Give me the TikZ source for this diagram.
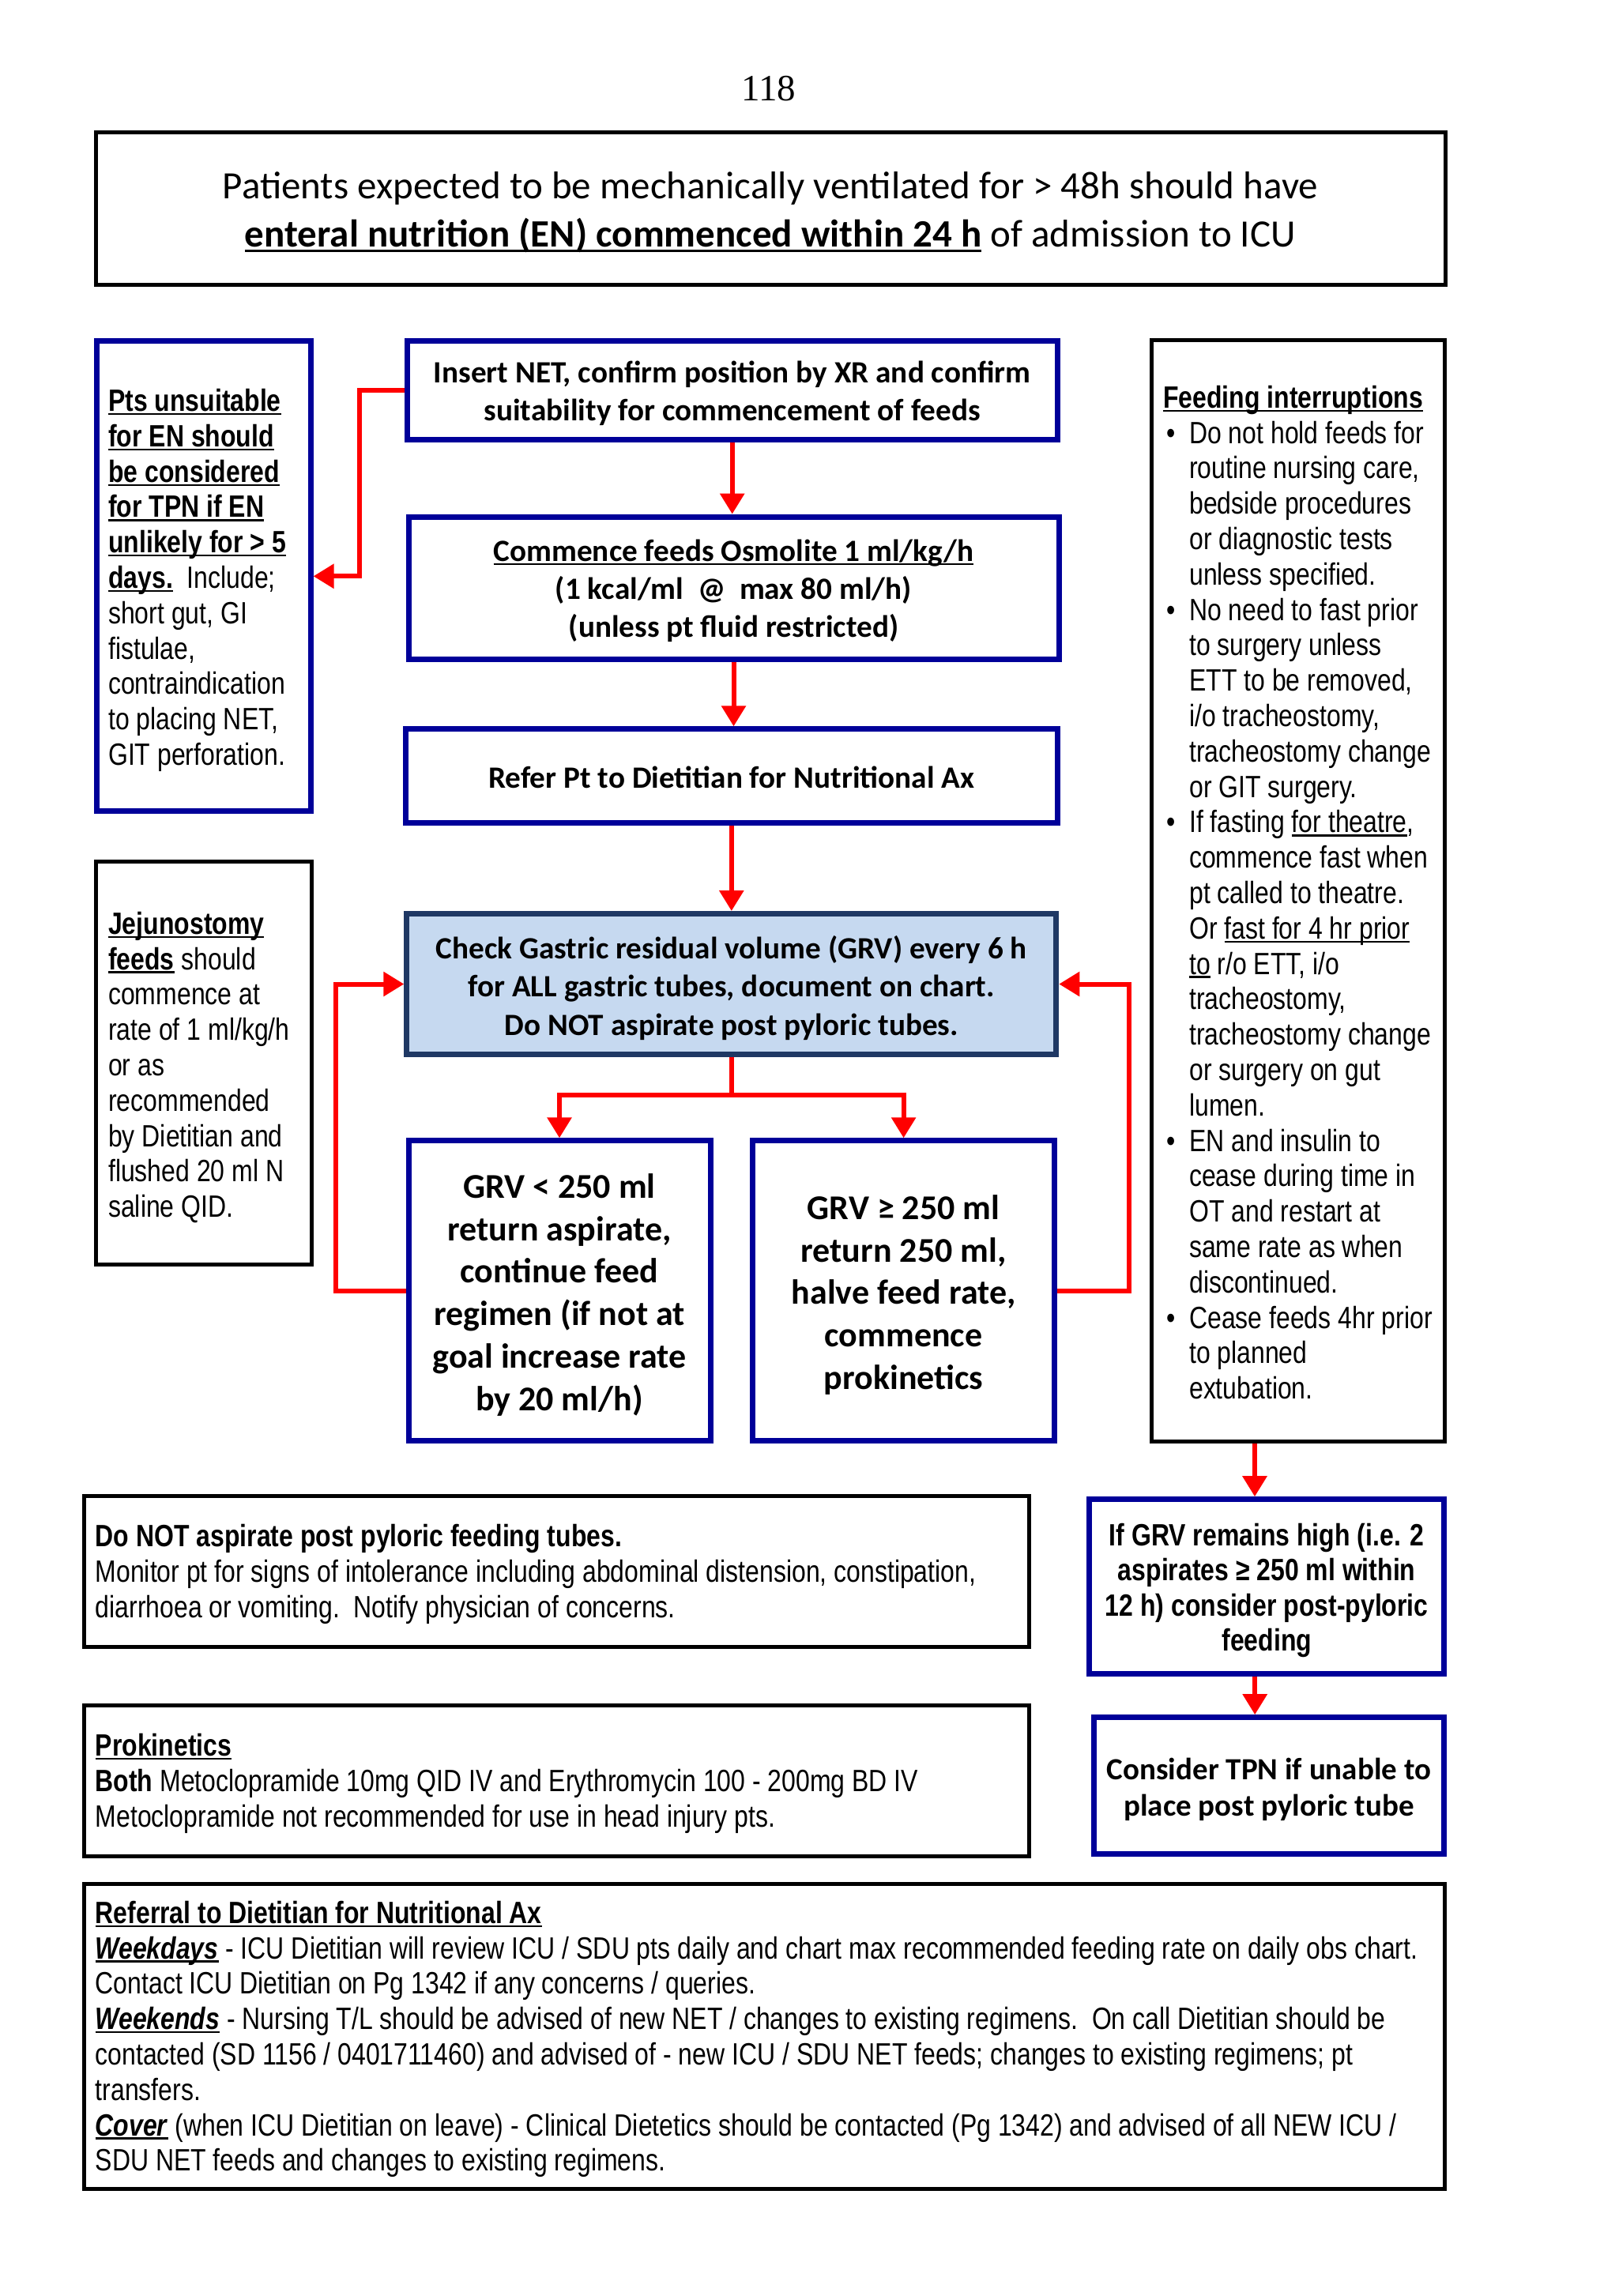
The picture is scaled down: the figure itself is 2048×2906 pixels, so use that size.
\documentclass[tikz,border=0pt]{standalone}
\usepackage{fontspec}
\setmainfont{Carlito}
\newfontfamily\ar[FakeStretch=0.82]{Liberation Sans}
\newfontfamily\tnr{Liberation Serif}
\usetikzlibrary{arrows.meta}
\definecolor{navy}{RGB}{0,0,153}
\definecolor{slate}{RGB}{31,56,100}
\definecolor{lightblue}{RGB}{198,217,240}
\definecolor{arrred}{RGB}{255,0,0}
\newsavebox\ulbx
\newcommand\ul[1]{\sbox\ulbx{#1}\rlap{\rule[-0.12em]{\wd\ulbx}{0.06em}}\usebox\ulbx}
\newcommand\bl{\makebox[33pt][l]{\hspace{4pt}\textbullet}}
\newcommand\ind{\hspace*{33pt}}
\tikzset{
  bluebox/.style={draw=navy, line width=7pt, inner sep=0pt},
  blackbox/.style={draw=black, line width=5pt, inner sep=0pt},
  txt/.style={inner sep=0pt, align=left, anchor=west},
  ctxt/.style={inner sep=0pt, align=center},
  arr/.style={draw=arrred, line width=6pt, -{Triangle[width=30pt,length=26pt]}},
  redline/.style={draw=arrred, line width=6pt},
  cal/.style={font=\fontsize{39.2}{48}\selectfont\bfseries},
  cbig/.style={font=\fontsize{44}{53.7}\selectfont\bfseries},
  arn/.style={font=\ar\fontsize{39}{44.8}\selectfont},
}
\begin{document}
\begin{tikzpicture}[x=1pt,y=-1pt]
\useasboundingbox[fill=white] (0,0) rectangle (2048,2906);

\node[font=\tnr\fontsize{47}{56}\selectfont, inner sep=0pt] (pagenum) at (973,112) {118};

\node[blackbox, minimum width=1708, minimum height=193] (title) at (975,264) {};
\node[ctxt, font=\fontsize{49}{61}\selectfont] (titlet) at ([yshift=-5pt]title.center)
 {Patients expected to be mechanically ventilated for > 48h should have\\
  \ul{\textbf{enteral nutrition (EN) commenced within 24 h}} of admission to ICU};

% left boxes
\node[bluebox, minimum width=271, minimum height=595] (left1) at (257.6,729.3) {};
\node[txt, arn] (left1t) at (137,734.5) {%
 \ul{\textbf{Pts unsuitable}}\\
 \ul{\textbf{for EN should}}\\
 \ul{\textbf{be considered}}\\
 \ul{\textbf{for TPN if EN}}\\
 \ul{\textbf{unlikely for > 5}}\\
 \ul{\textbf{days.}}\ \ Include;\\
 short gut, GI\\
 fistulae,\\
 contraindication\\
 to placing NET,\\
 GIT perforation.};

\node[blackbox, minimum width=273, minimum height=510] (left2) at (257.6,1345.6) {};
\node[txt, arn] (left2t) at (137,1351) {%
 \ul{\textbf{Jejunostomy}}\\
 \ul{\textbf{feeds}} should\\
 commence at\\
 rate of 1 ml/kg/h\\
 or as\\
 recommended\\
 by Dietitian and\\
 flushed 20 ml N\\
 saline QID.};

% main flow
\node[bluebox, minimum width=823, minimum height=125] (insert) at (926.7,493.9) {};
\node[ctxt, cal] (insertt) at ([yshift=-4pt]insert.center)
 {Insert NET, confirm position by XR and confirm\\suitability for commencement of feeds};
\node[bluebox, minimum width=823, minimum height=180] (commence) at (928.5,744.1) {};
\node[ctxt, cal] (commencet) at ([yshift=-4pt]commence.center)
 {\ul{Commence feeds Osmolite 1 ml/kg/h}\\(1 kcal/ml\ \ @\ \ max 80 ml/h)\\(unless pt fluid restricted)};
\node[bluebox, minimum width=825, minimum height=119] (refer) at (925.8,982.3) {};
\node[ctxt, cal] (refert) at ([yshift=-2pt]refer.center)
 {Refer Pt to Dietitian for Nutritional Ax};
\node[bluebox, draw=slate, fill=lightblue, minimum width=822, minimum height=178] (check) at (925.8,1245.5) {};
\node[ctxt, font=\fontsize{39.2}{48.5}\selectfont\bfseries] (checkt) at ([yshift=-5pt]check.center)
 {Check Gastric residual volume (GRV) every 6 h\\for ALL gastric tubes, document on chart.\\Do NOT aspirate post pyloric tubes.};
\node[bluebox, minimum width=382, minimum height=380] (grvlow) at (708,1633.8) {};
\node[ctxt, cbig] (grvlowt) at ([yshift=-5pt]grvlow.center)
 {GRV < 250 ml\\return aspirate,\\continue feed\\regimen (if not at\\goal increase rate\\by 20 ml/h)};
\node[bluebox, minimum width=382, minimum height=380] (grvhigh) at (1143.6,1633.8) {};
\node[ctxt, cbig] (grvhight) at ([yshift=-5pt]grvhigh.center)
 {GRV ≥ 250 ml\\return 250 ml,\\halve feed rate,\\commence\\prokinetics};

% right box
\node[blackbox, minimum width=371, minimum height=1394] (right) at (1643,1127.8) {};
\node[txt, arn] (rightt) at (1472,1129.5) {%
 \ul{\textbf{Feeding interruptions}}\\
 \bl Do not hold feeds for\\
 \ind routine nursing care,\\
 \ind bedside procedures\\
 \ind or diagnostic tests\\
 \ind unless specified.\\
 \bl No need to fast prior\\
 \ind to surgery unless\\
 \ind ETT to be removed,\\
 \ind i/o tracheostomy,\\
 \ind tracheostomy change\\
 \ind or GIT surgery.\\
 \bl If fasting \ul{for theatre},\\
 \ind commence fast when\\
 \ind pt called to theatre.\\
 \ind Or \ul{fast for 4 hr prior}\\
 \ind \ul{to} r/o ETT, i/o\\
 \ind tracheostomy,\\
 \ind tracheostomy change\\
 \ind or surgery on gut\\
 \ind lumen.\\
 \bl EN and insulin to\\
 \ind cease during time in\\
 \ind OT and restart at\\
 \ind same rate as when\\
 \ind discontinued.\\
 \bl Cease feeds 4hr prior\\
 \ind to planned\\
 \ind extubation.};

% bottom right
\node[bluebox, minimum width=449, minimum height=221] (remains) at (1603.2,2008.2) {};
\node[ctxt, font=\ar\fontsize{39}{44.5}\selectfont\bfseries] (remainst) at ([yshift=-5pt]remains.center)
 {If GRV remains high (i.e. 2\\aspirates ≥ 250 ml within\\12 h) consider post-pyloric\\feeding};
\node[bluebox, minimum width=443, minimum height=173] (tpn) at (1606,2260.2) {};
\node[ctxt, font=\fontsize{39}{46}\selectfont\bfseries] (tpnt) at ([yshift=-5pt]tpn.center)
 {Consider TPN if unable to\\place post pyloric tube};

% bottom boxes
\node[blackbox, minimum width=1196, minimum height=191] (donot) at (704.3,1988.7) {};
\node[txt, arn] (donott) at (120.5,1992.5) {%
 \textbf{Do NOT aspirate post pyloric feeding tubes.}\\
 Monitor pt for signs of intolerance including abdominal distension, constipation,\\
 diarrhoea or vomiting.\ \ Notify physician of concerns.};

\node[blackbox, minimum width=1196, minimum height=191] (proki) at (704.3,2253.8) {};
\node[txt, arn] (prokit) at (120.5,2257.5) {%
 \ul{\textbf{Prokinetics}}\\
 \textbf{Both} Metoclopramide 10mg QID IV and Erythromycin 100 - 200mg BD IV\\
 Metoclopramide not recommended for use in head injury pts.};

\node[blackbox, minimum width=1722, minimum height=386] (referral) at (967.5,2577.1) {};
\node[txt, arn] (referralt) at (120.5,2581) {%
 \ul{\textbf{Referral to Dietitian for Nutritional Ax}}\\
 \ul{\textbf{\textit{Weekdays}}} - ICU Dietitian will review ICU / SDU pts daily and chart max recommended feeding rate on daily obs chart.\\
 Contact ICU Dietitian on Pg 1342 if any concerns / queries.\\
 \ul{\textbf{\textit{Weekends}}} - Nursing T/L should be advised of new NET / changes to existing regimens.\ \ On call Dietitian should be\\
 contacted (SD 1156 / 0401711460) and advised of - new ICU / SDU NET feeds; changes to existing regimens; pt\\
 transfers.\\
 \ul{\textbf{\textit{Cover}}} (when ICU Dietitian on leave) - Clinical Dietetics should be contacted (Pg 1342) and advised of all NEW ICU /\\
 SDU NET feeds and changes to existing regimens.};

% connectors
\draw[arr] (insert.west) -- ++(-57,0) |- (left1.east);
\draw[arr] (insert.south) -- (insert.south |- commence.north);
\draw[arr] (commence.south) -- (commence.south |- refer.north);
\draw[arr] (refer.south) -- (refer.south |- check.north);
\draw[redline] (check.south) -- ++(0,48) coordinate (split);
\draw[arr] (split) -| (grvlow.north);
\draw[arr] (split) -| (grvhigh.north);
\draw[arr] (grvlow.west) -- ++(-89,0) |- (check.west);
\draw[arr] (grvhigh.east) -- ++(91,0) |- (check.east);
\draw[arr] ([xshift=-55pt]right.south) -- ([xshift=-55pt]right.south |- remains.north);
\draw[arr] ([xshift=-15pt]remains.south) -- ([xshift=-15pt]remains.south |- tpn.north);
\end{tikzpicture}
\end{document}
